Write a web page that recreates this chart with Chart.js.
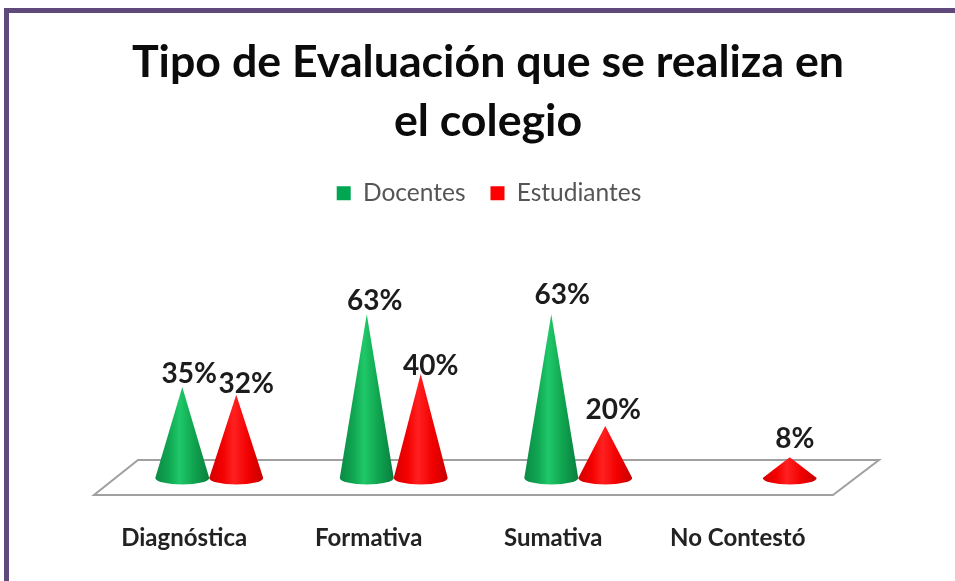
<!DOCTYPE html>
<html><head><meta charset="utf-8">
<script src="https://cdn.jsdelivr.net/npm/chart.js@4/dist/chart.umd.min.js"></script>
<style>html,body{margin:0;padding:0;background:#fff}canvas{display:block}</style>
</head><body><canvas id="c" width="955" height="581"></canvas>
<script>
const categories = ["Diagnóstica", "Formativa", "Sumativa", "No Contestó"];
const docentes = [35, 63, 63, null];
const estudiantes = [32, 40, 20, 8];
const titleLines = ["Tipo de Evaluación que se realiza en", "el colegio"];
const FONT = "Lato, Carlito, 'Open Sans', sans-serif";

// hand placement of the value labels relative to each cone apex [dx, dy]
const labelNudge = [
  [[7,-13],[10,-11]],
  [[8,-13],[10,-8]],
  [[11,-19],[8,-16]],
  [[0,0],[5,-18]]
];
const coneShades = [
  ["#0a8a44","#10a652","#1fc868","#10a34f","#087f3e"],
  ["#d40000","#f40000","#ff2020","#f20000","#c60000"]
];

const conePlugin = {
  id: "cones",
  afterLayout(chart) {
    chart.legend.left += 3;
    chart.legend.right += 3;
    chart.titleBlock.left += 2;
    chart.titleBlock.right += 2;
  },
  beforeDraw(chart) {
    const {ctx, width, height} = chart;
    ctx.save();
    ctx.fillStyle = "#fff";
    ctx.fillRect(0, 0, width, height);
    ctx.strokeStyle = "#5f497a";
    ctx.lineWidth = 5;
    ctx.beginPath();
    ctx.moveTo(6.5, height);
    ctx.lineTo(6.5, 10.5);
    ctx.lineTo(width, 10.5);
    ctx.stroke();
    ctx.restore();
  },
  beforeDatasetsDraw(chart) {
    const {ctx, chartArea: a, scales: {y}} = chart;
    const y0 = y.getPixelForValue(0);
    ctx.save();
    ctx.strokeStyle = "#a0a0a0";
    ctx.lineWidth = 2;
    ctx.fillStyle = "#fff";
    ctx.beginPath();
    ctx.moveTo(a.left - 23, y0 + 17);
    ctx.lineTo(a.right - 22, y0 + 17);
    ctx.lineTo(a.right + 24, y0 - 18);
    ctx.lineTo(a.left + 21, y0 - 18);
    ctx.closePath();
    ctx.fill();
    ctx.stroke();
    ctx.restore();
  },
  beforeDatasetDraw(chart, args) {
    const {ctx} = chart;
    const shades = coneShades[args.index];
    args.meta.data.forEach((bar, i) => {
      const p = bar.getProps(["x", "y", "base", "width"], true);
      if (chart.data.datasets[args.index].data[i] == null) return;
      const hw = p.width / 2, ry = 6.5;
      const g = ctx.createLinearGradient(p.x - hw, 0, p.x + hw, 0);
      g.addColorStop(0, shades[0]);
      g.addColorStop(0.25, shades[1]);
      g.addColorStop(0.45, shades[2]);
      g.addColorStop(0.72, shades[3]);
      g.addColorStop(1, shades[4]);
      ctx.save();
      ctx.fillStyle = g;
      ctx.beginPath();
      ctx.moveTo(p.x, p.y);
      ctx.lineTo(p.x + hw, p.base);
      ctx.ellipse(p.x, p.base, hw, ry, 0, 0, Math.PI);
      ctx.closePath();
      ctx.fill();
      ctx.restore();
    });
    return false;
  },
  afterDatasetsDraw(chart) {
    const {ctx} = chart;
    ctx.save();
    ctx.font = "bold 28px " + FONT;
    ctx.fillStyle = "#1c1c1c";
    ctx.textAlign = "center";
    ctx.textBaseline = "middle";
    chart.data.datasets.forEach((ds, d) => {
      chart.getDatasetMeta(d).data.forEach((bar, i) => {
        if (ds.data[i] == null) return;
        const n = labelNudge[i][d];
        ctx.fillText(ds.data[i] + "%", bar.x + n[0], bar.y + n[1]);
      });
    });
    ctx.restore();
  }
};

new Chart(document.getElementById("c"), {
  type: "bar",
  data: {
    labels: categories,
    datasets: [
      {label: "Docentes", data: docentes, backgroundColor: "#00a651", borderWidth: 0},
      {label: "Estudiantes", data: estudiantes, backgroundColor: "#fe0000", borderWidth: 0}
    ]
  },
  options: {
    responsive: false,
    animation: false,
    layout: {padding: {left: 117, right: 100, top: 0, bottom: 0}},
    datasets: {bar: {categoryPercentage: 0.585, barPercentage: 1}},
    scales: {
      x: {
        grid: {display: false},
        border: {display: false},
        afterFit(s) { s.height = 103; },
        ticks: {
          padding: 38,
          labelOffset: -25,
          maxRotation: 0,
          autoSkip: false,
          color: "#222",
          font: {family: FONT, size: 24, weight: "bold"}
        }
      },
      y: {display: false, min: 0, max: 101}
    },
    plugins: {
      tooltip: {enabled: false},
      title: {
        display: true,
        text: titleLines,
        color: "#0b0b0b",
        font: {family: FONT, size: 44.7, weight: "bold", lineHeight: 1.32},
        padding: {top: 33, bottom: 5}
      },
      legend: {
        position: "top",
        labels: {
          boxWidth: 14,
          boxHeight: 14,
          padding: 25,
          color: "#555",
          font: {family: FONT, size: 24.5}
        }
      }
    }
  },
  plugins: [conePlugin]
});
</script>
</body></html>
